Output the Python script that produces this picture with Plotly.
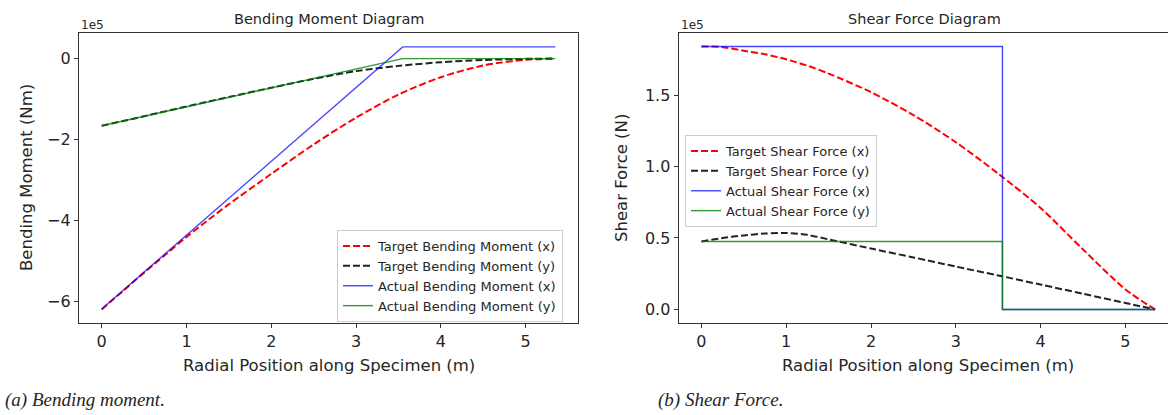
import plotly.graph_objects as go

# ---------------- data (values in units of 1e5) ----------------
x_target = [0, 0.25, 0.5, 0.75, 1.0, 1.25, 1.5, 2.0, 2.5, 3.0, 3.5, 4.0, 4.5, 5.0, 5.35]
bm_target_x = [-6.20, -5.745, -5.29, -4.85, -4.41, -4.00, -3.60, -2.85, -2.12, -1.46, -0.89, -0.46, -0.17, -0.03, 0.0]
bm_target_y = [-1.66, -1.545, -1.425, -1.305, -1.185, -1.065, -0.95, -0.72, -0.50, -0.31, -0.18, -0.09, -0.035, -0.007, 0.0]
x_bm_actual = [0, 3.55, 5.35]
bm_actual_x = [-6.19, 0.29, 0.29]
bm_actual_y = [-1.66, 0.0, 0.0]

sf_target_x = [1.84, 1.835, 1.81, 1.785, 1.75, 1.705, 1.65, 1.52, 1.36, 1.17, 0.95, 0.71, 0.42, 0.14, 0.0]
sf_target_y = [0.475, 0.50, 0.518, 0.531, 0.535, 0.522, 0.49, 0.426, 0.364, 0.30, 0.238, 0.174, 0.11, 0.045, 0.0]
x_sf_actual = [0, 3.55, 3.55, 5.35]
sf_actual_x = [1.84, 1.84, 0.0, 0.0]
sf_actual_y = [0.475, 0.475, 0.0, 0.0]

bm_ticks = [-6, -4, -2, 0]
sf_ticks = [0.0, 0.5, 1.0, 1.5]
x_ticks = [0, 1, 2, 3, 4, 5]

W, H = 1168, 415
FONT = "DejaVu Sans"
TXT = "#262626"
RED = "#ff0000"
BLACK = "#222222"
BLUE = "rgba(0,0,255,0.72)"
GREEN = "rgba(0,128,0,0.8)"
DASH = "7px,3px"

fig = go.Figure()

def px_x(p):
    return p / W

def px_y(p):
    return 1 - p / H

# left panel
fig.add_trace(go.Scatter(x=x_target, y=bm_target_x, mode="lines", name="Target Bending Moment (x)",
                         line=dict(color=RED, width=2, dash=DASH, shape="spline", smoothing=0.8),
                         xaxis="x", yaxis="y", legend="legend"))
fig.add_trace(go.Scatter(x=x_target, y=bm_target_y, mode="lines", name="Target Bending Moment (y)",
                         line=dict(color=BLACK, width=2, dash=DASH, shape="spline", smoothing=0.8),
                         xaxis="x", yaxis="y", legend="legend"))
fig.add_trace(go.Scatter(x=x_bm_actual, y=bm_actual_x, mode="lines", name="Actual Bending Moment (x)",
                         line=dict(color=BLUE, width=1.4), xaxis="x", yaxis="y", legend="legend"))
fig.add_trace(go.Scatter(x=x_bm_actual, y=bm_actual_y, mode="lines", name="Actual Bending Moment (y)",
                         line=dict(color=GREEN, width=1.4), xaxis="x", yaxis="y", legend="legend"))

# right panel
fig.add_trace(go.Scatter(x=x_target, y=sf_target_x, mode="lines", name="Target Shear Force (x)",
                         line=dict(color=RED, width=2, dash=DASH, shape="spline", smoothing=0.8),
                         xaxis="x2", yaxis="y2", legend="legend2"))
fig.add_trace(go.Scatter(x=x_target, y=sf_target_y, mode="lines", name="Target Shear Force (y)",
                         line=dict(color=BLACK, width=2, dash=DASH, shape="spline", smoothing=0.8),
                         xaxis="x2", yaxis="y2", legend="legend2"))
fig.add_trace(go.Scatter(x=x_sf_actual, y=sf_actual_x, mode="lines", name="Actual Shear Force (x)",
                         line=dict(color=BLUE, width=1.4), xaxis="x2", yaxis="y2", legend="legend2"))
fig.add_trace(go.Scatter(x=x_sf_actual, y=sf_actual_y, mode="lines", name="Actual Shear Force (y)",
                         line=dict(color=GREEN, width=1.4), xaxis="x2", yaxis="y2", legend="legend2"))

axis_common = dict(showgrid=False, zeroline=False, showline=True, linecolor="#333333", linewidth=1.2,
                   ticks="outside", ticklen=4, tickwidth=1.2, tickcolor="#333333",
                   tickfont=dict(family=FONT, size=16, color=TXT))

ydom = [px_y(322.6), px_y(33.3)]

fig.update_layout(
    width=W, height=H, margin=dict(l=0, r=0, t=0, b=0),
    paper_bgcolor="white", plot_bgcolor="white",
    font=dict(family=FONT, color=TXT),
    xaxis=dict(domain=[px_x(79), px_x(578)], range=[-0.2675, 5.6175], tickvals=x_ticks,
               mirror=True, anchor="y", **axis_common),
    yaxis=dict(domain=ydom, range=[-6.525, 0.625], tickvals=bm_ticks, mirror=True, anchor="x",
               **axis_common),
    xaxis2=dict(domain=[px_x(678.7), 1.0], range=[-0.2675, 5.502], tickvals=x_ticks,
                mirror=True, anchor="y2", **axis_common),
    yaxis2=dict(domain=ydom, range=[-0.092, 1.932], tickvals=sf_ticks, tickformat=".1f",
                mirror=False, anchor="x2", **axis_common),
    legend=dict(x=px_x(337), y=px_y(230), xanchor="left", yanchor="top",
                bgcolor="rgba(255,255,255,0.85)", bordercolor="#cccccc", borderwidth=1,
                font=dict(family=FONT, size=13, color=TXT), itemwidth=30, tracegroupgap=0),
    legend2=dict(x=px_x(685), y=px_y(135), xanchor="left", yanchor="top",
                 bgcolor="rgba(255,255,255,0.85)", bordercolor="#cccccc", borderwidth=1,
                 font=dict(family=FONT, size=13, color=TXT), itemwidth=30, tracegroupgap=0),
    showlegend=True,
)

ann = []
def text(x, y, s, size, xanchor="center", angle=0, family=FONT, italic=False):
    ann.append(dict(x=px_x(x), y=px_y(y), xref="paper", yref="paper", text=("<i>%s</i>" % s) if italic else s,
                    showarrow=False, xanchor=xanchor, yanchor="middle", textangle=angle,
                    font=dict(family=family, size=size, color=TXT)))

text(328.5, 19, "Bending Moment Diagram", 14.5)
text(924, 19, "Shear Force Diagram", 14.5)
text(79, 25, "1e5", 12, xanchor="left")
text(679, 25, "1e5", 12, xanchor="left")
text(328.5, 365, "Radial Position along Specimen (m)", 16.5)
text(928, 365, "Radial Position along Specimen (m)", 16.5)
text(26, 178, "Bending Moment (Nm)", 16.5, angle=-90)
text(621, 178, "Shear Force (N)", 16.5, angle=-90)
text(3, 400, "(a) Bending moment.", 19, xanchor="left", family="Liberation Serif", italic=True)
text(656, 400, "(b) Shear Force.", 19, xanchor="left", family="Liberation Serif", italic=True)
fig.update_layout(annotations=ann)

fig.write_html("out.html")
